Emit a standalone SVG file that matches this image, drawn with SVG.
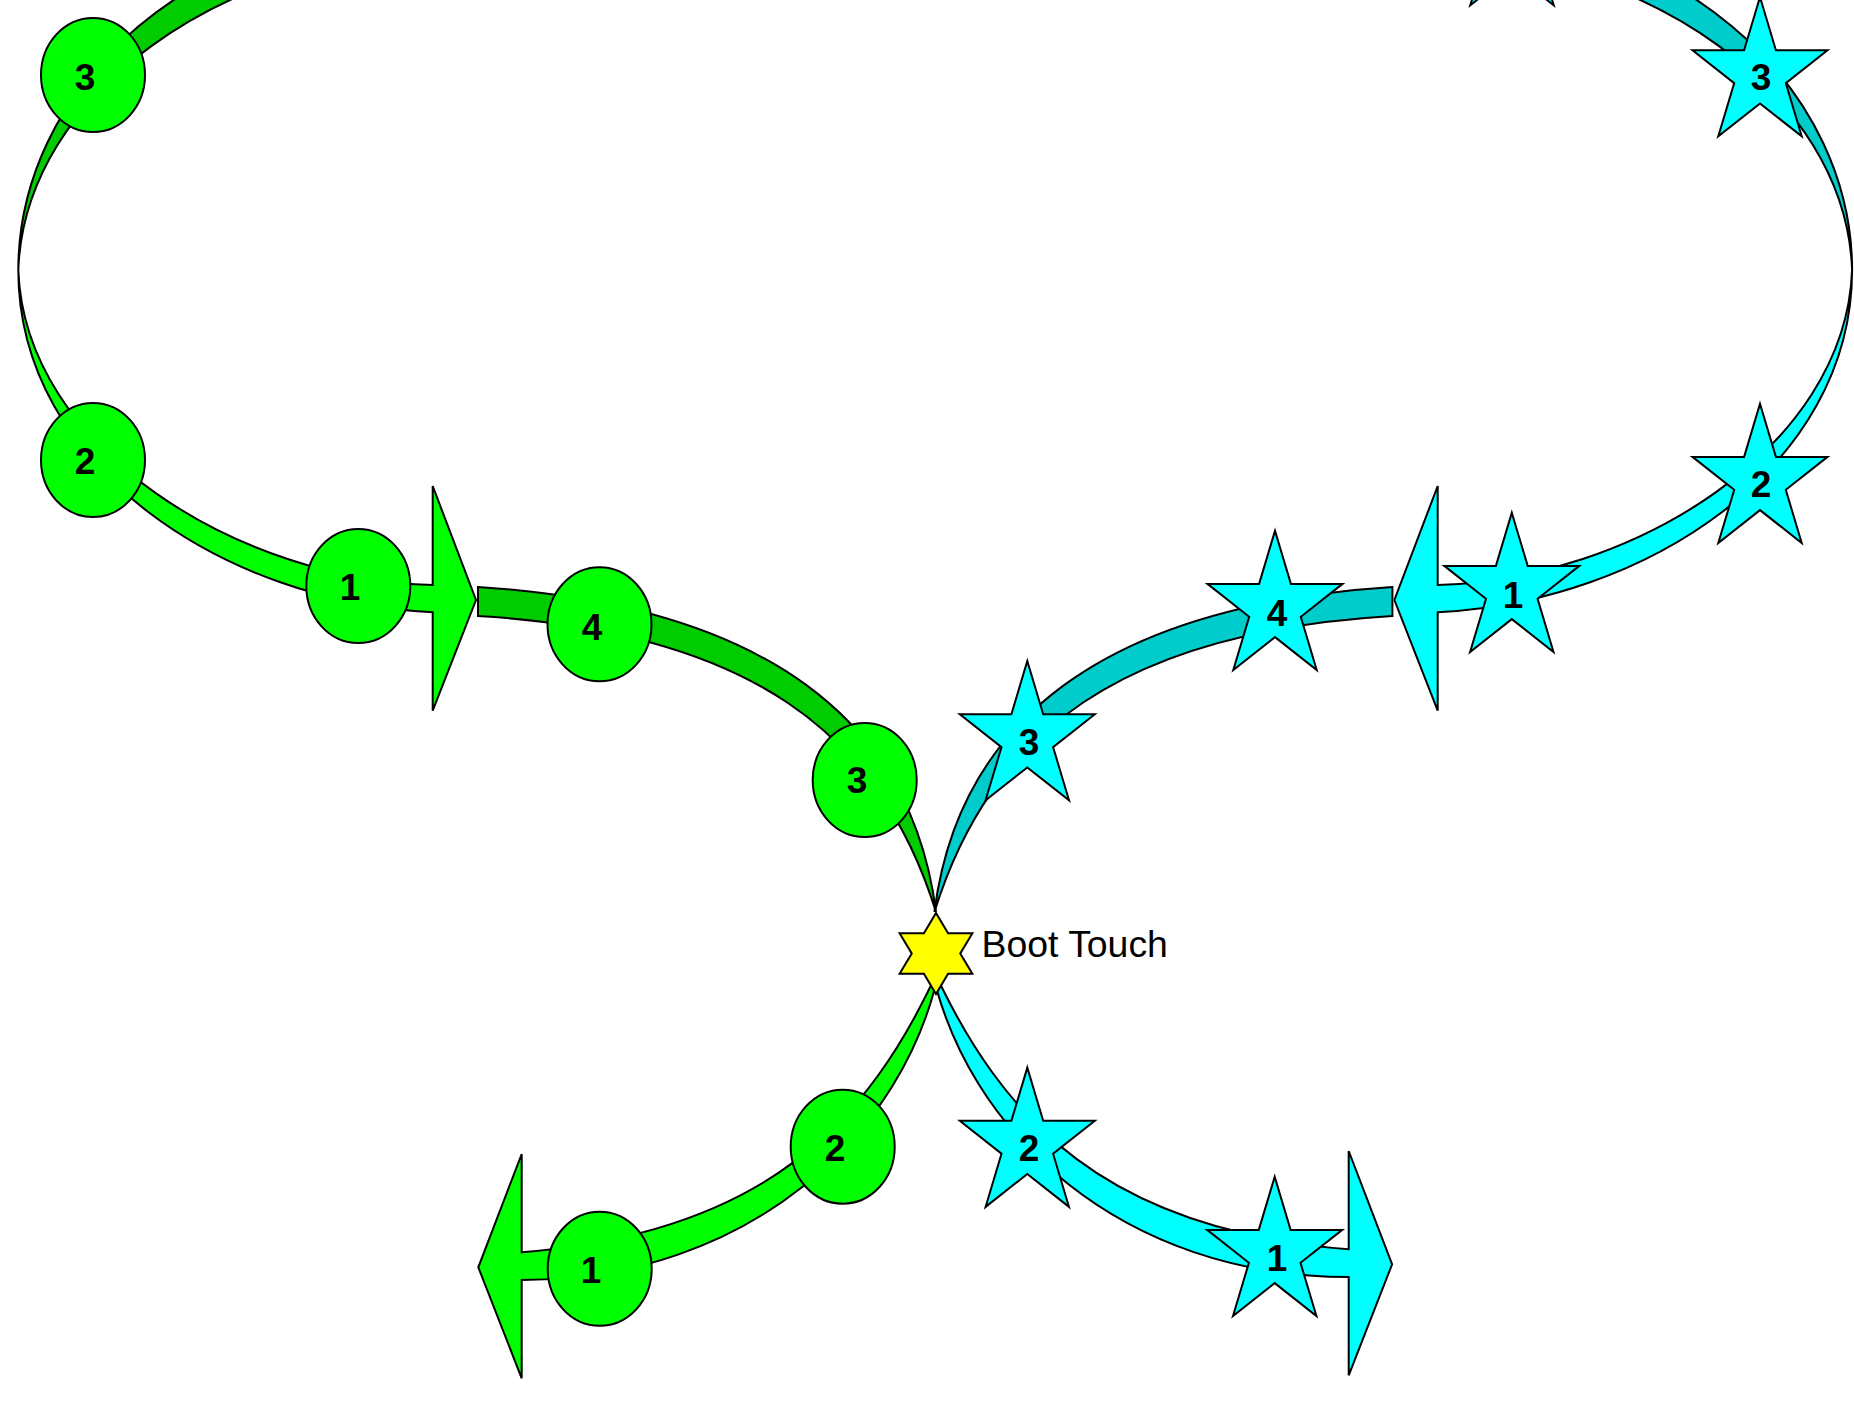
<svg xmlns="http://www.w3.org/2000/svg" xmlns:xlink="http://www.w3.org/1999/xlink" width="1854" height="1413" viewBox="0 0 1854 1413">
<style>
.s{stroke:#000;stroke-width:2;stroke-linejoin:miter}
.lg{fill:#00ff00}
.dg{fill:#00cc00}
.lc{fill:#00ffff}
.dc{fill:#00cccc}
.hx{fill:#ffff00}
.num{font-family:"Liberation Sans",Arial,Helvetica,sans-serif;font-weight:bold;font-size:37px;text-anchor:middle;fill:#000}
.lbl{font-family:"Liberation Sans",Arial,Helvetica,sans-serif;font-size:37.4px;fill:#000}
</style>
<defs>
<path id="star5" d="M0,-77 L15.9,-23.8 L67.5,-23.8 L25.8,9.1 L41.7,62.3 L0,29.4 L-41.7,62.3 L-25.8,9.1 L-67.5,-23.8 L-15.9,-23.8 Z"/>
<path id="star6" d="M0,-40.5 L12.1,-20.25 L36.4,-20.25 L24.25,0 L36.4,20.25 L12.1,20.25 L0,40.5 L-12.1,20.25 L-36.4,20.25 L-24.25,0 L-36.4,-20.25 L-12.1,-20.25 Z"/>
</defs>
<rect width="1854" height="1413" fill="#ffffff"/>
<g id="connectors">
<path id="g-bottom" class="s lg" d="M940,966 C906,1136 747,1280 521.7,1280 L521.7,1378.3 L478.3,1267.3 L521.7,1154 L521.7,1252.3 C762,1233 868,1126 940,966 Z"/>
<path id="g-mid" class="s dg" d="M478,587 C768,606 912,722 936,912 C880,732 748,632 478,616 Z"/>
<path id="g-lower-loop" class="s lg" d="M18.3,270 C18.3,468 225,602 432.7,612.3 L432.7,710.7 L476,600 L432.7,486 L432.7,585 C240,580 25,450 18.3,270 Z"/>
<path id="g-upper-loop" class="s dg" d="M18.3,270 A411.7,345 0 0 1 430,-75 L430,-47 C230,-42 25,90 18.3,270 Z"/>
<path id="c-bottom" class="s lc" transform="matrix(-1 0 0 1 1870.4 -3)" d="M940,966 C906,1136 747,1280 521.7,1280 L521.7,1378.3 L478.3,1267.3 L521.7,1154 L521.7,1252.3 C762,1233 868,1126 940,966 Z"/>
<g transform="matrix(-1 0 0 1 1870.4 0)">
<path id="c-mid" class="s dc" d="M478,587 C768,606 912,722 936,912 C880,732 748,632 478,616 Z"/>
<path id="c-lower-loop" class="s lc" d="M18.3,270 C18.3,468 225,602 432.7,612.3 L432.7,710.7 L476,600 L432.7,486 L432.7,585 C240,580 25,450 18.3,270 Z"/>
<path id="c-upper-loop" class="s dc" d="M18.3,270 A411.7,345 0 0 1 430,-75 L430,-47 C230,-42 25,90 18.3,270 Z"/>
</g>
</g>
<g id="green-nodes">
<g id="g3-top"><ellipse class="s lg" cx="93" cy="75" rx="52" ry="57"/><text class="num" x="85" y="90">3</text></g>
<g id="g2-top"><ellipse class="s lg" cx="93" cy="460" rx="52" ry="57"/><text class="num" x="85" y="474">2</text></g>
<g id="g1-top"><ellipse class="s lg" cx="358.3" cy="586" rx="52" ry="57"/><text class="num" x="350" y="600">1</text></g>
<g id="g4-mid"><ellipse class="s lg" cx="599.5" cy="624.3" rx="52" ry="57"/><text class="num" x="592" y="640">4</text></g>
<g id="g3-mid"><ellipse class="s lg" cx="864.7" cy="780" rx="52" ry="57"/><text class="num" x="857" y="793">3</text></g>
<g id="g2-bottom"><ellipse class="s lg" cx="842.7" cy="1146.7" rx="52" ry="57"/><text class="num" x="835" y="1161">2</text></g>
<g id="g1-bottom"><ellipse class="s lg" cx="599.7" cy="1268.8" rx="52" ry="57"/><text class="num" x="591" y="1283">1</text></g>
</g>
<g id="cyan-nodes">
<g id="c4-top"><use xlink:href="#star5" class="s lc" x="1512" y="-57"/></g>
<g id="c3-top"><use xlink:href="#star5" class="s lc" x="1760" y="74"/><text class="num" x="1761" y="90">3</text></g>
<g id="c2-top"><use xlink:href="#star5" class="s lc" x="1760" y="480.7"/><text class="num" x="1761" y="497">2</text></g>
<g id="c1-top"><use xlink:href="#star5" class="s lc" x="1511.8" y="589.7"/><text class="num" x="1513" y="608">1</text></g>
<g id="c4-mid"><use xlink:href="#star5" class="s lc" x="1275" y="607.7"/><text class="num" x="1277" y="626">4</text></g>
<g id="c3-mid"><use xlink:href="#star5" class="s lc" x="1027.3" y="738"/><text class="num" x="1029" y="755">3</text></g>
<g id="c2-bottom"><use xlink:href="#star5" class="s lc" x="1027.3" y="1144.6"/><text class="num" x="1029" y="1161">2</text></g>
<g id="c1-bottom"><use xlink:href="#star5" class="s lc" x="1274.7" y="1253.7"/><text class="num" x="1277" y="1271">1</text></g>
</g>
<g id="boot-touch"><use xlink:href="#star6" class="s hx" x="936" y="953.5"/><text class="lbl" x="981.5" y="956.5">Boot Touch</text></g>
</svg>
